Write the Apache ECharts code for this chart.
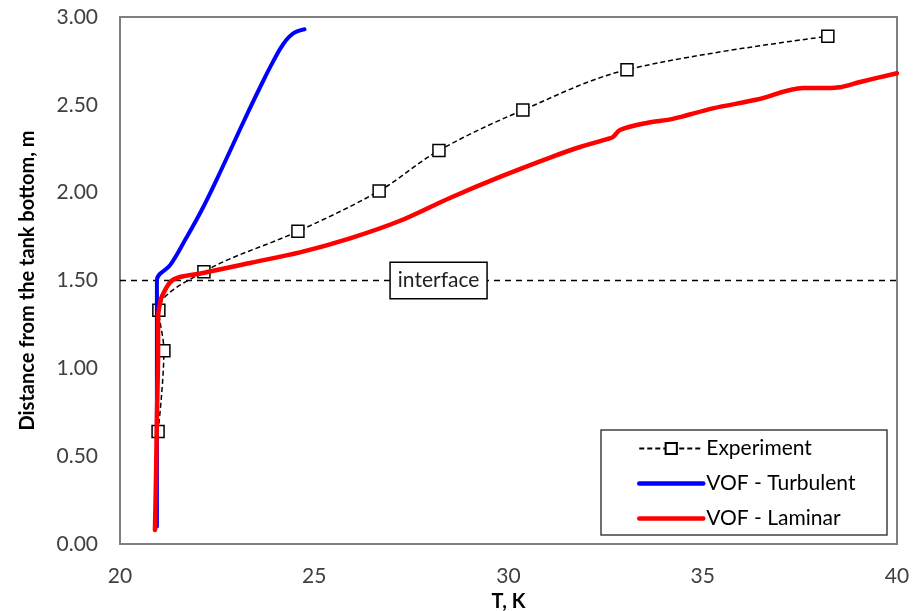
<!DOCTYPE html>
<html>
<head>
<meta charset="utf-8">
<script src="https://cdn.jsdelivr.net/npm/echarts@6/dist/echarts.min.js"></script>
<style>
  html, body { margin: 0; padding: 0; background: #fff; }
  #chart { width: 918px; height: 611px; }
</style>
</head>
<body>
<div id="chart"></div>
<script>
// Measured temperature profile: [T (K), height (m)]
const experimentT = [20.98, 21.13, 21.00, 22.16, 24.58, 26.67, 28.21, 30.37, 33.05, 38.22];
const experimentH = [0.64, 1.10, 1.33, 1.55, 1.78, 2.01, 2.24, 2.47, 2.70, 2.89];

// VOF simulation, turbulent model
const turbulentT = [20.95, 20.95, 20.95, 21.30, 21.70, 22.10, 22.50, 22.90, 23.30, 23.65, 23.95, 24.20, 24.45, 24.75];
const turbulentH = [0.10, 0.82, 1.50, 1.59, 1.74, 1.90, 2.08, 2.27, 2.46, 2.62, 2.75, 2.845, 2.905, 2.93];

// VOF simulation, laminar model
const laminarT = [20.90, 20.93, 20.95, 20.98, 20.98, 21.03, 21.08, 21.29, 21.54, 22.14, 23.35, 24.63, 25.92, 27.21, 28.49, 29.78, 31.07, 31.84, 32.54, 32.69, 32.87, 33.56, 34.23, 35.26, 36.40, 37.58, 38.20, 38.53, 39.05, 40.00];
const laminarH = [0.08, 0.42, 0.72, 1.10, 1.29, 1.37, 1.41, 1.49, 1.52, 1.543, 1.60, 1.66, 1.74, 1.84, 1.97, 2.09, 2.20, 2.26, 2.305, 2.317, 2.357, 2.397, 2.42, 2.48, 2.53, 2.596, 2.596, 2.60, 2.63, 2.68];

// Liquid/vapour interface level and where its tag sits
const interfaceLevel = 1.5;
const interfaceTagT = 28.2;

// Axis ranges and tick spacing
const xMin = 20, xMax = 40, xStep = 5;
const yMin = 0, yMax = 3, yStep = 0.5;

const pairs = (xs, ys) => xs.map((x, i) => [x, ys[i]]);

const FONT = 'Lato';
const chart = echarts.init(document.getElementById('chart'), null, { renderer: 'canvas' });

chart.setOption({
  animation: false,
  backgroundColor: '#ffffff',
  textStyle: { fontFamily: FONT, color: '#000' },
  grid: {
    left: 120, right: 21, top: 17, bottom: 67,
    outerBoundsMode: 'none', containLabel: false,
    show: true, borderColor: '#7f7f7f', borderWidth: 2, backgroundColor: 'transparent'
  },
  xAxis: {
    type: 'value', min: xMin, max: xMax, interval: xStep,
    axisLine: { show: false }, axisTick: { show: false }, splitLine: { show: false },
    axisLabel: { fontFamily: FONT, fontSize: 21, color: '#404040', margin: 22 },
    name: 'T, K', nameLocation: 'middle', nameGap: 47,
    nameTextStyle: { fontFamily: FONT, fontSize: 20, fontWeight: 'bold', color: '#000' }
  },
  yAxis: {
    type: 'value', min: yMin, max: yMax, interval: yStep,
    axisLine: { show: false }, axisTick: { show: false }, splitLine: { show: false },
    axisLabel: { fontFamily: FONT, fontSize: 21, color: '#404040', margin: 22,
      formatter: v => v.toFixed(2) },
    name: 'Distance from the tank bottom, m', nameLocation: 'middle', nameGap: 82,
    nameTextStyle: { fontFamily: FONT, fontSize: 20, fontWeight: 'bold', color: '#000' }
  },
  graphic: [{
    type: 'rect', z: 5,
    shape: { x: 601, y: 430, width: 286, height: 105 },
    style: { fill: '#fff', stroke: '#404040', lineWidth: 1.5 }
  }],
  legend: {
    z: 10,
    orient: 'vertical', left: 632, top: 433,
    itemWidth: 64, itemHeight: 14, itemGap: 14,
    textStyle: { fontFamily: FONT, fontSize: 21, color: '#000', padding: [0, 0, 0, -2] },
    data: [
      { name: 'Experiment' },
      { name: 'VOF - Turbulent', itemStyle: { opacity: 0 }, lineStyle: { width: 4.5 } },
      { name: 'VOF - Laminar', itemStyle: { opacity: 0 }, lineStyle: { width: 4.5 } }
    ]
  },
  series: [
    {
      name: 'interface', type: 'line', silent: true,
      data: [[xMin, interfaceLevel], [xMax, interfaceLevel]],
      symbol: 'none',
      lineStyle: { color: '#000', width: 1.5, type: [6, 5] },
      markPoint: {
        symbol: 'rect', symbolSize: 0,
        data: [{ coord: [interfaceTagT, interfaceLevel] }],
        label: {
          show: true, position: 'inside', formatter: 'interface',
          fontFamily: FONT, fontSize: 21, color: '#222',
          backgroundColor: '#fff', borderColor: '#000', borderWidth: 1.5,
          padding: [6, 7, 8, 7]
        }
      }
    },
    {
      name: 'Experiment', type: 'line',
      data: pairs(experimentT, experimentH),
      smooth: 0.35,
      symbol: 'rect', symbolSize: 12, showAllSymbol: true,
      itemStyle: { color: '#fff', borderColor: '#000', borderWidth: 1.5 },
      lineStyle: { color: '#000', width: 1.5, type: [5, 3] },
      z: 3
    },
    {
      name: 'VOF - Turbulent', type: 'line',
      data: pairs(turbulentT, turbulentH),
      smooth: 0.4, symbol: 'none',
      itemStyle: { color: '#0000ff' },
      lineStyle: { color: '#0000ff', width: 4, cap: 'round' },
      z: 4
    },
    {
      name: 'VOF - Laminar', type: 'line',
      data: pairs(laminarT, laminarH),
      smooth: 0.3, symbol: 'none',
      itemStyle: { color: '#ff0000' },
      lineStyle: { color: '#ff0000', width: 4.5, cap: 'round' },
      z: 4
    }
  ]
});
</script>
</body>
</html>
